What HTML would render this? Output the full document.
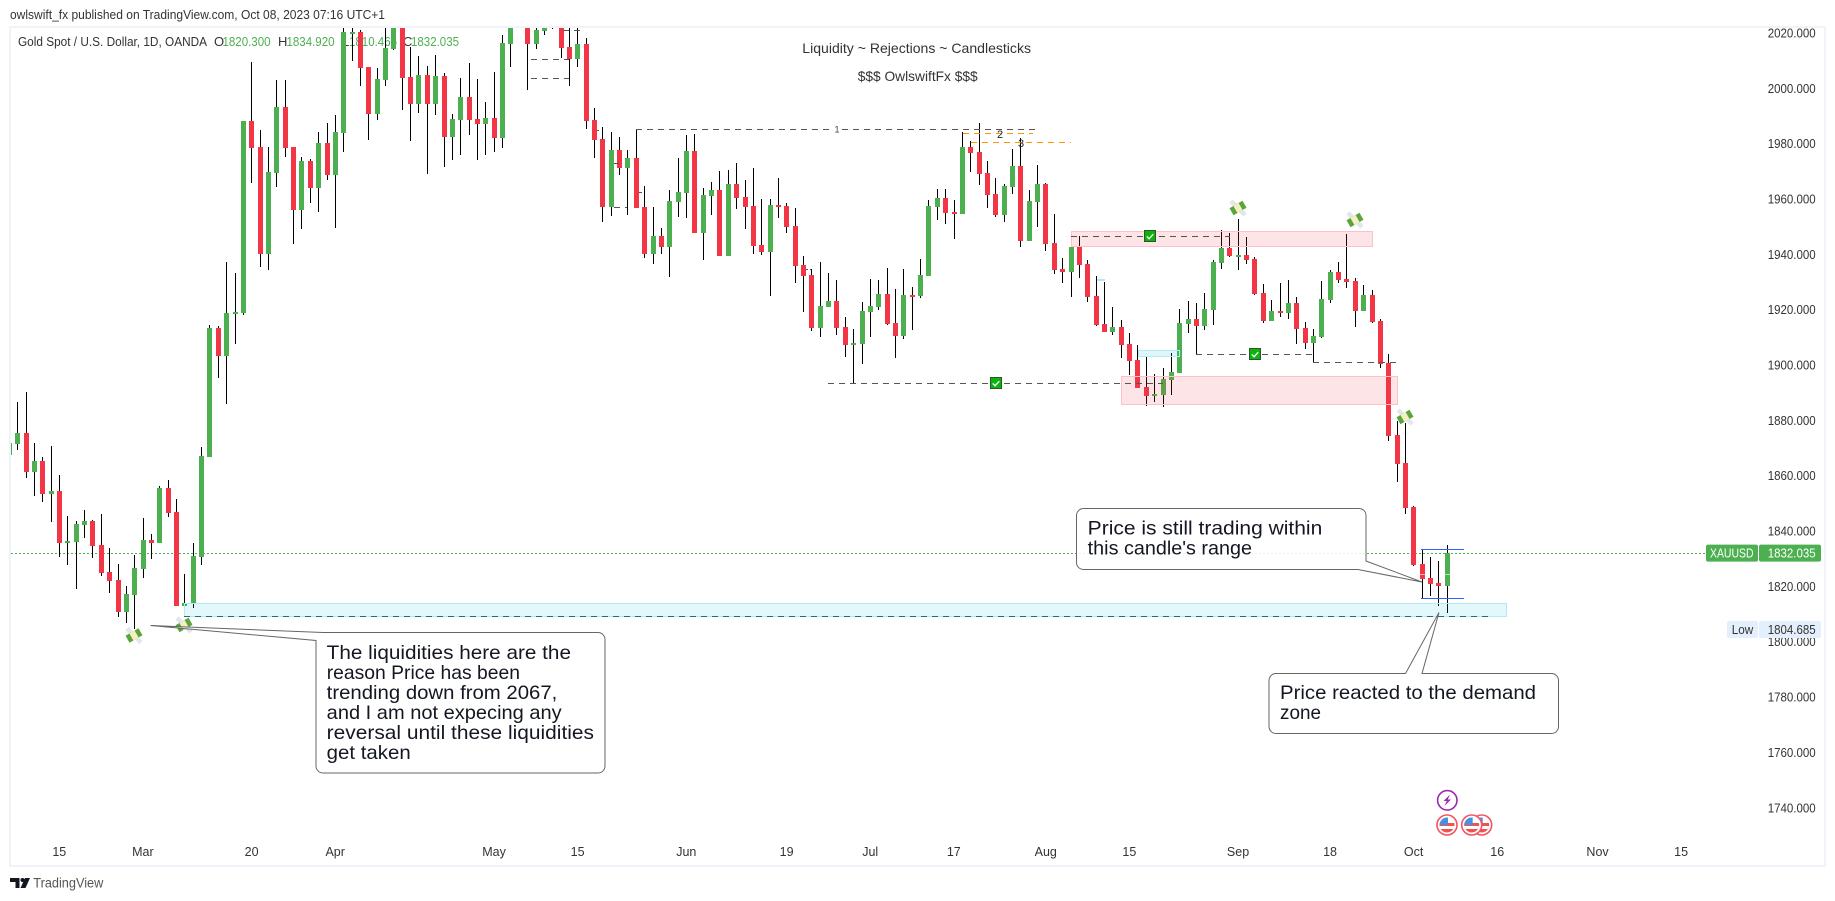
<!DOCTYPE html>
<html lang="en">
<head>
<meta charset="utf-8">
<title>XAUUSD Daily Chart</title>
<style>
html,body{margin:0;padding:0;background:#fff;width:1835px;height:901px;overflow:hidden}
svg{display:block}
text{font-family:"Liberation Sans",sans-serif}
</style>
</head>
<body>
<svg id="chart" xmlns="http://www.w3.org/2000/svg" width="1835" height="901" viewBox="0 0 1835 901">
  <defs>
    <clipPath id="plot-clip"><rect x="11" y="28" width="1813" height="837"/></clipPath>
    <clipPath id="flag-clip"><circle cx="0" cy="0" r="7.5"/></clipPath>
    <symbol id="money-icon" viewBox="-10 -10 20 20" overflow="visible">
      <rect x="-2.2" y="-10" width="4.4" height="20" fill="#e3e7ec" transform="rotate(-45)"/>
      <rect x="-7.5" y="-4" width="15" height="8" fill="#5aa63c" transform="rotate(-30)"/>
      <rect x="-3" y="-4" width="6" height="8" fill="#f7efc4" transform="rotate(-30)"/>
    </symbol>
    <symbol id="check-icon" viewBox="0 0 13 13" overflow="visible">
      <rect x="0.5" y="0.5" width="12" height="12" fill="#0cb30c" stroke="#2f4f2f" stroke-width="1"/>
      <polyline points="3,7 5.5,9.5 10,4.5" fill="none" stroke="#fff" stroke-width="1.4"/>
    </symbol>
    <symbol id="flag-icon" viewBox="-11 -11 22 22" overflow="visible">
      <circle r="10" fill="#fff" stroke="#f7525f" stroke-width="1.6"/>
      <g clip-path="url(#flag-clip)">
        <rect x="-8" y="-8" width="16" height="16" fill="#fff"/>
        <rect x="-8" y="-2" width="16" height="3" fill="#ef5350"/>
        <rect x="-8" y="4" width="16" height="4" fill="#ef5350"/>
        <rect x="-8" y="-8" width="9" height="8" fill="#4a90e2"/>
      </g>
    </symbol>
  </defs>

  <rect x="0" y="0" width="1835" height="901" fill="#ffffff"/>
  <text x="10" y="19" font-size="13" fill="#333" textLength="375" lengthAdjust="spacingAndGlyphs">owlswift_fx published on TradingView.com, Oct 08, 2023 07:16 UTC+1</text>

  <g fill="#f0f3fa">
    <rect x="9" y="26" width="1817" height="2"/>
    <rect x="9" y="26" width="2" height="841"/>
    <rect x="1824" y="26" width="2" height="841"/>
    <rect x="9" y="865" width="1817" height="2"/>
  </g>

  <g font-size="13">
    <text x="18" y="46" fill="#333" textLength="189" lengthAdjust="spacingAndGlyphs">Gold Spot / U.S. Dollar, 1D, OANDA</text>
    <text x="214" y="46" fill="#333">O</text>
    <text x="222.5" y="46" fill="#4caf50" textLength="48" lengthAdjust="spacingAndGlyphs">1820.300</text>
    <text x="278" y="46" fill="#333">H</text>
    <text x="286.5" y="46" fill="#4caf50" textLength="48" lengthAdjust="spacingAndGlyphs">1834.920</text>
    <text x="342" y="46" fill="#333">L</text>
    <text x="349" y="46" fill="#4caf50" textLength="48" lengthAdjust="spacingAndGlyphs">1810.465</text>
    <text x="403" y="46" fill="#333">C</text>
    <text x="411" y="46" fill="#4caf50" textLength="48" lengthAdjust="spacingAndGlyphs">1832.035</text>
  </g>

  <text x="802.3" y="53" font-size="14" fill="#333" textLength="228.7" lengthAdjust="spacingAndGlyphs">Liquidity ~ Rejections ~ Candlesticks</text>
  <text x="857.7" y="81" font-size="14" fill="#333" textLength="120" lengthAdjust="spacingAndGlyphs">$$$ OwlswiftFx $$$</text>

  <line id="last-price-line" x1="11" x2="1706" stroke="#4caf50" stroke-width="1" stroke-dasharray="2 2"/>
  <g id="candles" clip-path="url(#plot-clip)"></g>

  <g clip-path="url(#plot-clip)">
    <rect x="1071.5" y="231.5" width="301" height="15" fill="rgba(242,54,69,0.13)" stroke="#ffc0c8"/>
    <rect x="1121.5" y="376.5" width="276" height="28" fill="rgba(242,54,69,0.13)" stroke="#ffc0c8"/>
    <rect x="1138.5" y="350.5" width="41" height="6" fill="rgba(0,188,212,0.13)" stroke="#b2ebf2"/>
    <rect x="1097" y="279" width="8" height="2" fill="#b2ebf2"/>
    <rect x="184.5" y="603.5" width="1322" height="13" fill="rgba(0,188,212,0.11)" stroke="#b2ebf2"/>
    <line x1="184" y1="616.5" x2="1490" y2="616.5" stroke="#2a6a70" stroke-dasharray="6 5"/>
    <g stroke="#555" stroke-width="1" stroke-dasharray="6 5">
      <line x1="636" y1="129.5" x2="833" y2="129.5"/>
      <line x1="842" y1="129.5" x2="1037" y2="129.5"/>
      <line x1="531" y1="59.5" x2="569" y2="59.5"/>
      <line x1="531" y1="78.5" x2="569" y2="78.5"/>
      <line x1="563" y1="30.5" x2="585" y2="30.5"/>
      <line x1="614" y1="207.5" x2="627" y2="207.5"/>
      <line x1="614" y1="163.5" x2="619" y2="163.5"/>
      <line x1="639" y1="192.5" x2="642" y2="192.5"/>
      <line x1="597" y1="130.5" x2="599" y2="130.5"/>
      <line x1="806" y1="269.5" x2="811" y2="269.5" stroke-dasharray="2 2"/>
      <line x1="828" y1="383.5" x2="1163" y2="383.5"/>
      <line x1="1071" y1="236.5" x2="1230" y2="236.5"/>
      <line x1="1196" y1="354.5" x2="1313" y2="354.5"/>
      <line x1="1313" y1="362.5" x2="1396" y2="362.5"/>
    </g>
    <g stroke="#ff9800" stroke-width="1" stroke-dasharray="6 5">
      <line x1="963" y1="133.5" x2="1033" y2="133.5"/>
      <line x1="971" y1="142.5" x2="1071" y2="142.5"/>
    </g>
    <text x="837" y="132.5" font-size="9" fill="#444" text-anchor="middle">1</text>
    <text x="1000" y="138" font-size="11" fill="#222" text-anchor="middle">2</text>
    <text x="1021" y="147" font-size="11" fill="#222" text-anchor="middle">3</text>

    <use href="#check-icon" x="1144" y="230" width="12" height="12"/>
    <use href="#check-icon" x="1249" y="348" width="12" height="12"/>
    <use href="#check-icon" x="990" y="377" width="12" height="12"/>

    <use href="#money-icon" x="124" y="625.5" width="20" height="20"/>
    <use href="#money-icon" x="174" y="615" width="20" height="20"/>
    <use href="#money-icon" x="1228" y="198" width="20" height="20"/>
    <use href="#money-icon" x="1345" y="210" width="20" height="20"/>
    <use href="#money-icon" x="1395" y="407" width="20" height="20"/>

    <line x1="1421" y1="549.5" x2="1464" y2="549.5" stroke="#2962ff"/>
    <line x1="1421" y1="598.5" x2="1464" y2="598.5" stroke="#2962ff"/>
    <line x1="1420" y1="574.5" x2="1425" y2="574.5" stroke="rgba(255,255,255,.6)"/>
    <line x1="1445" y1="574.5" x2="1450" y2="574.5" stroke="rgba(255,255,255,.6)"/>

    <path d="M150.5 625.5 L323 632.5 H598 a7 7 0 0 1 7 7 V766 a7 7 0 0 1 -7 7 H323 a7 7 0 0 1 -7 -7 V640.5 Z" fill="rgba(255,255,255,.88)" stroke="#666" stroke-width="1"/>
    <path d="M1083.5 508.5 H1359 a7 7 0 0 1 7 7 V561 L1422 582 L1358 569.5 H1083.5 a7 7 0 0 1 -7 -7 V515.5 a7 7 0 0 1 7 -7 Z" fill="rgba(255,255,255,.88)" stroke="#666" stroke-width="1"/>
    <path d="M1276 673.5 H1405.5 L1439 612.5 L1422 673.5 H1551.5 a7 7 0 0 1 7 7 V726.5 a7 7 0 0 1 -7 7 H1276 a7 7 0 0 1 -7 -7 V680.5 a7 7 0 0 1 7 -7 Z" fill="rgba(255,255,255,.88)" stroke="#666" stroke-width="1"/>

    <g font-size="19.5" fill="#131722">
      <text x="326.7" y="659" textLength="244.3" lengthAdjust="spacingAndGlyphs">The liquidities here are the</text>
      <text x="326.7" y="679" textLength="193.3" lengthAdjust="spacingAndGlyphs">reason Price has been</text>
      <text x="326.7" y="699" textLength="230.6" lengthAdjust="spacingAndGlyphs">trending down from 2067,</text>
      <text x="326.7" y="719" textLength="235" lengthAdjust="spacingAndGlyphs">and I am not expecing any</text>
      <text x="326.7" y="739" textLength="267.3" lengthAdjust="spacingAndGlyphs">reversal until these liquidities</text>
      <text x="326.7" y="759" textLength="84" lengthAdjust="spacingAndGlyphs">get taken</text>
    </g>
    <g font-size="19.5" fill="#131722">
      <text x="1087.7" y="534.5" textLength="234.6" lengthAdjust="spacingAndGlyphs">Price is still trading within</text>
      <text x="1087.7" y="554.5" textLength="164.3" lengthAdjust="spacingAndGlyphs">this candle's range</text>
    </g>
    <g font-size="19.5" fill="#131722">
      <text x="1280" y="699" textLength="256" lengthAdjust="spacingAndGlyphs">Price reacted to the demand</text>
      <text x="1280" y="719" textLength="41" lengthAdjust="spacingAndGlyphs">zone</text>
    </g>

    <g>
      <circle cx="1447.3" cy="800.3" r="9.7" fill="#fff" stroke="#9c27b0" stroke-width="1.6"/>
      <polygon points="1450,794.5 1443.5,801 1446.8,801 1444.5,806 1451,799.5 1447.8,799.5" fill="#9c27b0"/>
    </g>
    <use href="#flag-icon" x="1470.7" y="814" width="22" height="22"/>
    <use href="#flag-icon" x="1460.7" y="814" width="22" height="22"/>
    <use href="#flag-icon" x="1436" y="814" width="22" height="22"/>
  </g>

  <g id="price-axis"></g>
  <g id="time-axis"></g>
  <g id="tags"></g>

  <g>
    <path d="M10 878 H19.5 V888 H15.5 V882 H10 Z" fill="#131722"/>
    <circle cx="22.5" cy="880" r="2" fill="#131722"/>
    <polygon points="25,878 30,878 25.5,888 20.5,888" fill="#131722"/>
    <text x="33.3" y="887.7" font-size="13.5" fill="#555" textLength="70" lengthAdjust="spacingAndGlyphs">TradingView</text>
  </g>
</svg>

<script>
const opens = [
1867.5,1871.5,1875.4,1861.3,1865.3,1853.4,1854.5,1835.7,1836.0,1842.2,
1843.6,1835.0,1825.2,1822.3,1810.7,1816.9,1826.3,1836.7,1835.7,1855.6,
1846.9,1812.9,1813.6,1830.6,1866.8,1913.4,1903.2,1918.4,1918.8,1988.2,
1978.8,1940.1,1969.4,1993.2,1978.8,1956.0,1973.7,1964.0,1980.2,1968.7,
1983.8,2020.0,2020.3,2007.7,1990.7,2003.0,2014.2,2026.5,2004.1,1994.3,
2004.8,1994.3,2004.4,1982.4,1988.5,1996.8,1988.9,1987.1,1989.3,1982.0,
2016.0,2029.0,2026.5,2016.0,2020.7,2027.6,2026.5,2014.9,2010.6,2016.0,
1988.5,1981.7,1957.1,1977.7,1971.2,1974.8,1957.1,1940.1,1946.6,1942.6,
1958.9,1962.2,1977.3,1947.7,1961.1,1963.2,1939.4,1965.4,1960.7,1957.5,
1943.4,1940.8,1957.8,1957.5,1950.2,1936.1,1932.5,1913.4,1920.9,1923.1,
1913.7,1907.2,1907.6,1919.1,1920.9,1925.6,1915.2,1910.5,1925.3,1924.9,
1932.2,1957.1,1960.3,1955.3,1954.6,1978.8,1977.0,1969.4,1961.8,1954.2,
1964.3,1971.9,1944.8,1958.9,1965.4,1944.1,1934.7,1933.6,1942.6,1936.5,
1924.9,1914.8,1911.9,1913.7,1907.6,1901.8,1892.0,1888.8,1889.1,1894.6,
1897.1,1914.8,1916.6,1914.1,1919.9,1936.9,1942.3,1939.4,1939.8,1938.3,
1926.0,1915.9,1919.5,1918.8,1922.4,1913.4,1907.9,1910.1,1923.5,1933.6,
1931.1,1930.3,1919.5,1925.3,1915.9,1900.7,1874.7,1864.6,1848.7,1828.1,
1823.0,1821.2,1820.3];
const highs = [
1872.9,1886.6,1890.3,1871.8,1866.8,1870.7,1860.2,1845.4,1843.6,1847.6,
1844.0,1846.2,1833.9,1828.1,1820.1,1831.3,1844.7,1838.9,1856.3,1858.4,
1851.6,1824.5,1835.7,1870.4,1914.4,1914.1,1937.2,1933.2,1988.2,2009.5,
1984.9,1978.8,2003.0,2003.0,1978.8,1975.2,1974.4,1984.2,1987.4,1990.3,
2024.7,2024.7,2021.1,2007.7,2007.3,2024.7,2028.3,2030.1,2014.9,2011.7,
2008.0,2012.0,2005.5,1990.7,2003.7,2009.1,2003.4,1995.0,2005.9,2019.3,
2028.3,2031.2,2028.3,2022.1,2026.5,2030.1,2030.1,2026.5,2026.5,2018.2,
1992.9,1986.0,1984.2,1982.4,1977.7,1985.3,1964.7,1957.1,1949.5,1963.2,
1974.8,1983.1,1983.5,1964.0,1966.1,1970.1,1970.5,1973.0,1966.8,1971.2,
1960.0,1960.0,1967.6,1958.5,1956.7,1939.4,1934.7,1937.2,1933.2,1930.7,
1917.3,1913.0,1922.8,1931.1,1930.7,1935.0,1927.5,1934.7,1928.2,1938.3,
1959.6,1963.6,1963.6,1959.6,1984.2,1980.9,1987.4,1973.7,1967.6,1965.4,
1978.1,1982.0,1963.2,1972.3,1965.8,1954.6,1938.7,1947.0,1946.6,1937.9,
1932.2,1930.0,1920.9,1916.3,1911.6,1907.2,1903.2,1896.7,1898.9,1904.3,
1920.2,1923.1,1922.4,1926.0,1937.9,1948.8,1947.7,1952.8,1946.3,1939.0,
1929.3,1923.5,1929.6,1930.7,1924.6,1915.5,1913.0,1930.4,1934.3,1937.2,
1947.3,1931.4,1928.9,1927.1,1916.6,1904.0,1879.8,1879.0,1849.0,1833.5,
1830.6,1829.2,1834.92];
const lows = [
1866.4,1869.3,1859.2,1852.7,1850.5,1843.3,1830.6,1827.7,1819.1,1837.5,
1830.3,1823.8,1817.6,1808.9,1806.8,1804.685,1823.0,1829.9,1835.7,1845.1,
1812.9,1809.3,1812.2,1827.7,1866.8,1895.3,1885.9,1907.6,1918.1,1965.8,
1935.4,1934.3,1964.3,1975.2,1943.7,1949.1,1958.5,1955.3,1966.8,1949.5,
1977.0,2009.9,2000.8,1981.3,1988.5,2000.8,2013.8,1992.1,1980.9,1991.1,
1969.0,1990.3,1971.6,1974.1,1975.9,1983.1,1974.1,1975.9,1977.0,1978.4,
2007.7,2023.2,1999.4,2014.2,2019.3,2021.4,2010.9,2000.8,2007.7,1985.3,
1974.8,1951.7,1953.8,1968.7,1954.2,1956.7,1938.7,1936.5,1940.1,1931.8,
1953.5,1953.1,1947.7,1937.9,1954.2,1939.4,1939.4,1956.4,1949.1,1940.1,
1939.7,1924.9,1953.1,1947.7,1929.6,1919.1,1912.3,1910.1,1920.9,1910.8,
1902.9,1893.5,1900.4,1910.1,1919.9,1914.4,1902.5,1909.4,1912.6,1924.2,
1932.2,1952.4,1950.9,1945.5,1954.6,1969.7,1965.0,1956.7,1953.5,1951.7,
1961.8,1942.6,1944.8,1949.9,1941.2,1932.9,1929.6,1924.6,1931.4,1922.8,
1914.1,1911.9,1910.8,1902.5,1896.4,1891.7,1885.2,1886.6,1884.8,1889.1,
1897.1,1911.6,1904.0,1912.6,1914.4,1934.7,1939.0,1934.3,1936.5,1925.3,
1915.2,1915.9,1917.3,1916.6,1907.6,1905.8,1901.1,1909.8,1922.4,1929.6,
1927.8,1913.7,1919.5,1915.2,1898.9,1872.5,1857.7,1846.1,1827.4,1815.8,
1816.5,1812.9,1810.465];
const closes = [
1871.8,1875.4,1861.3,1865.3,1853.4,1854.5,1835.7,1836.4,1842.5,1843.6,
1834.6,1824.9,1822.0,1810.7,1817.2,1826.6,1836.7,1835.7,1855.6,1846.5,
1812.9,1814.0,1830.9,1867.1,1913.4,1903.2,1918.8,1919.1,1988.2,1978.4,
1940.1,1969.7,1993.2,1978.4,1956.0,1973.7,1964.0,1980.2,1968.7,1984.2,
2020.3,2020.3,2007.3,1990.7,2003.4,2014.6,2025.4,2003.7,1994.3,2004.8,
1994.3,2004.4,1982.4,1988.9,1996.8,1988.5,1987.1,1989.3,1982.0,2016.4,
2025.4,2026.8,2016.0,2021.1,2024.7,2024.7,2014.6,2010.6,2016.0,1988.2,
1981.3,1957.1,1977.7,1971.2,1974.8,1956.7,1940.1,1946.6,1942.6,1959.3,
1962.5,1977.3,1947.7,1961.4,1963.2,1939.4,1965.4,1960.3,1957.1,1943.0,
1940.8,1957.8,1957.1,1949.9,1935.8,1932.2,1913.4,1921.3,1923.1,1913.4,
1907.2,1907.9,1919.5,1921.3,1925.6,1914.8,1910.5,1925.3,1924.9,1932.5,
1957.5,1960.3,1954.9,1954.6,1978.8,1976.6,1969.0,1961.4,1954.2,1964.7,
1971.9,1944.8,1959.3,1965.4,1943.7,1934.3,1933.6,1942.6,1936.1,1924.6,
1914.4,1911.9,1913.7,1907.2,1901.4,1891.7,1888.8,1889.5,1894.9,1897.5,
1915.2,1916.6,1914.1,1920.2,1937.2,1942.3,1939.4,1939.8,1937.9,1925.6,
1915.9,1919.5,1918.8,1922.4,1913.0,1907.9,1910.5,1923.8,1933.6,1930.7,
1930.0,1919.5,1925.3,1915.5,1900.4,1874.3,1864.2,1848.3,1827.7,1822.7,
1820.9,1820.1,1832.035];
const priceTicks = [2020,2000,1980,1960,1940,1920,1900,1880,1860,1840,1820,1800,1780,1760,1740];
const dateTickBars = [6,16,29,39,58,68,81,93,103,113,124,134,147,158,168,178,190,200];
const dateTickLabels = ["15","Mar","20","Apr","May","15","Jun","19","Jul","17","Aug","15","Sep","18","Oct","16","Nov","15"];
const symbolName = "XAUUSD";
const rangeLowPrice = 1804.685;

const SVG_NS = "http://www.w3.org/2000/svg";
function xScale(bar) { return 9.14 + 8.36 * bar; }
function yScale(price) { return 33 + (2020 - price) * 2.767; }
function make(tag, attrs, parent) {
  const el = document.createElementNS(SVG_NS, tag);
  for (const key in attrs) el.setAttribute(key, attrs[key]);
  parent.appendChild(el);
  return el;
}

const candleLayer = document.getElementById("candles");
for (let k = 0; k < closes.length; k++) {
  const up = closes[k] >= opens[k];
  const color = up ? "#4caf50" : "#f23645";
  const wickX = Math.round(xScale(k) - 0.3);
  const group = make("g", {}, candleLayer);
  
  
  const hiY = Math.round(yScale(highs[k]));
  const loY = Math.round(yScale(lows[k]));
  const wick = make("rect", {x: wickX, y: hiY, width: 1, height: Math.max(1, loY - hiY), fill: "#000"}, group);
  
  
  const topY = Math.round(yScale(Math.max(opens[k], closes[k])));
  const botY = Math.round(yScale(Math.min(opens[k], closes[k])));
  const body = make("rect", {x: wickX - 2, y: topY, width: 5, height: Math.max(2, botY - topY), fill: color}, group);
  
  
}

const priceAxis = document.getElementById("price-axis");
priceTicks.forEach(function (p) {
  const t = make("text", {x: 1767.7, y: yScale(p) + 4.5, "font-size": 12.5, fill: "#333", textLength: 48, lengthAdjust: "spacingAndGlyphs"}, priceAxis);
  
  
  t.textContent = p.toFixed(3);
});

const timeAxis = document.getElementById("time-axis");
dateTickBars.forEach(function (bar, i) {
  const t = make("text", {x: xScale(bar), y: 856, "font-size": 12.5, fill: "#333", "text-anchor": "middle"}, timeAxis);
  
  
  t.textContent = dateTickLabels[i];
});

const lastClose = closes[closes.length - 1];
const lastY = yScale(lastClose);
const lastLine = document.getElementById("last-price-line");
lastLine.setAttribute("y1", Math.round(lastY) + 0.5);
lastLine.setAttribute("y2", Math.round(lastY) + 0.5);

const tags = document.getElementById("tags");
const symTag = make("rect", {x: 1706, y: lastY - 8.5, width: 52, height: 17, rx: 2, fill: "#4caf50"}, tags);


const valTag = make("rect", {x: 1759, y: lastY - 8.5, width: 62, height: 17, rx: 2, fill: "#4caf50"}, tags);


const symText = make("text", {x: 1710, y: lastY + 4.5, "font-size": 12.5, fill: "#fff", textLength: 43.5, lengthAdjust: "spacingAndGlyphs"}, tags);


symText.textContent = symbolName;
const valText = make("text", {x: 1767.7, y: lastY + 4.5, "font-size": 12.5, fill: "#fff", textLength: 48, lengthAdjust: "spacingAndGlyphs"}, tags);


valText.textContent = lastClose.toFixed(3);

const lowY = yScale(rangeLowPrice) + 0.7;
const lowTag = make("rect", {x: 1727, y: lowY - 8.5, width: 31, height: 17, rx: 2, fill: "#e3effd"}, tags);


const lowValTag = make("rect", {x: 1759, y: lowY - 8.5, width: 62, height: 17, rx: 2, fill: "#e3effd"}, tags);


const lowText = make("text", {x: 1731.7, y: lowY + 4.5, "font-size": 12.5, fill: "#333", textLength: 21.5, lengthAdjust: "spacingAndGlyphs"}, tags);


lowText.textContent = "Low";
const lowValText = make("text", {x: 1767.7, y: lowY + 4.5, "font-size": 12.5, fill: "#333", textLength: 48, lengthAdjust: "spacingAndGlyphs"}, tags);


lowValText.textContent = rangeLowPrice.toFixed(3);
</script>
</body>
</html>
